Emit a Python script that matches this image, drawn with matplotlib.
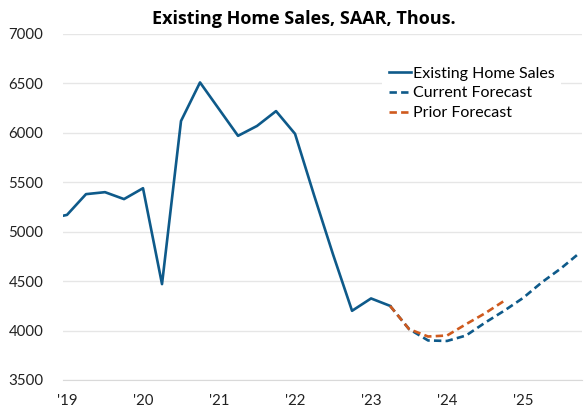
import matplotlib.pyplot as plt

plt.rcParams['font.family'] = ['Lato', 'DejaVu Sans']

# quarterly data, index 0 = 2019Q1 (2018Q4 at -1 is clipped by the axis)
hist_q = list(range(-1, 18))
hist_vals = [5130, 5170, 5380, 5400, 5330, 5440, 4470, 6120, 6510,
             6240, 5970, 6070, 6220, 5990, 5370, 4770, 4200, 4325, 4250]

curr_q = list(range(17, 28))
curr_vals = [4250, 4015, 3900, 3895, 3950, 4080, 4200, 4330, 4490, 4630, 4790]

prior_q = list(range(17, 24))
prior_vals = [4250, 4015, 3940, 3950, 4065, 4175, 4300]

tick_q = [0, 4, 8, 12, 16, 20, 24]
tick_labels = ["'19", "'20", "'21", "'22", "'23", "'24", "'25"]

blue = '#0E5A8A'
orange = '#CF5A1E'

fig = plt.figure(figsize=(5.87, 4.12), dpi=100)
ax = fig.add_axes([63 / 587, 32 / 412, 519 / 587, 346 / 412])

ax.plot(hist_q, hist_vals, color=blue, lw=1.9, label='Existing Home Sales')
ax.plot(curr_q, curr_vals, color=blue, lw=1.9, ls=(0, (2.8, 1.6)),
        label='Current Forecast')
ax.plot(prior_q, prior_vals, color=orange, lw=1.9, ls=(0, (2.8, 1.6)),
        label='Prior Forecast')

ax.set_xlim(-0.21, 27.1)
ax.set_ylim(3500, 7000)
ax.set_yticks(range(3500, 7001, 500))
ax.set_xticks(tick_q)
ax.set_xticklabels(tick_labels)
ax.tick_params(axis='both', length=0, labelsize=10.8, colors='#222222')
ax.tick_params(axis='y', pad=14)
ax.tick_params(axis='x', pad=10)

ax.grid(axis='y', color='#E6E6E6', lw=1)
ax.set_axisbelow(True)
for s in ['top', 'right', 'left']:
    ax.spines[s].set_visible(False)
ax.spines['bottom'].set_color('#D9D9D9')

# title sits a bit left of the axes centre in the original
fig.text(304 / 587, 1 - 19 / 412, 'Existing Home Sales, SAAR, Thous.',
         fontsize=13, fontweight='bold', family=['Open Sans', 'DejaVu Sans'],
         ha='center', va='center')

leg = ax.legend(loc='upper left', bbox_to_anchor=(0.615, 0.925), frameon=True,
                fontsize=11.5, handlelength=1.4, handletextpad=0.15,
                labelspacing=0.36, borderpad=0.4, borderaxespad=0)
leg.get_frame().set_facecolor('white')
leg.get_frame().set_edgecolor('none')
leg.get_frame().set_alpha(1)

fig.savefig('out.png', dpi=100)
